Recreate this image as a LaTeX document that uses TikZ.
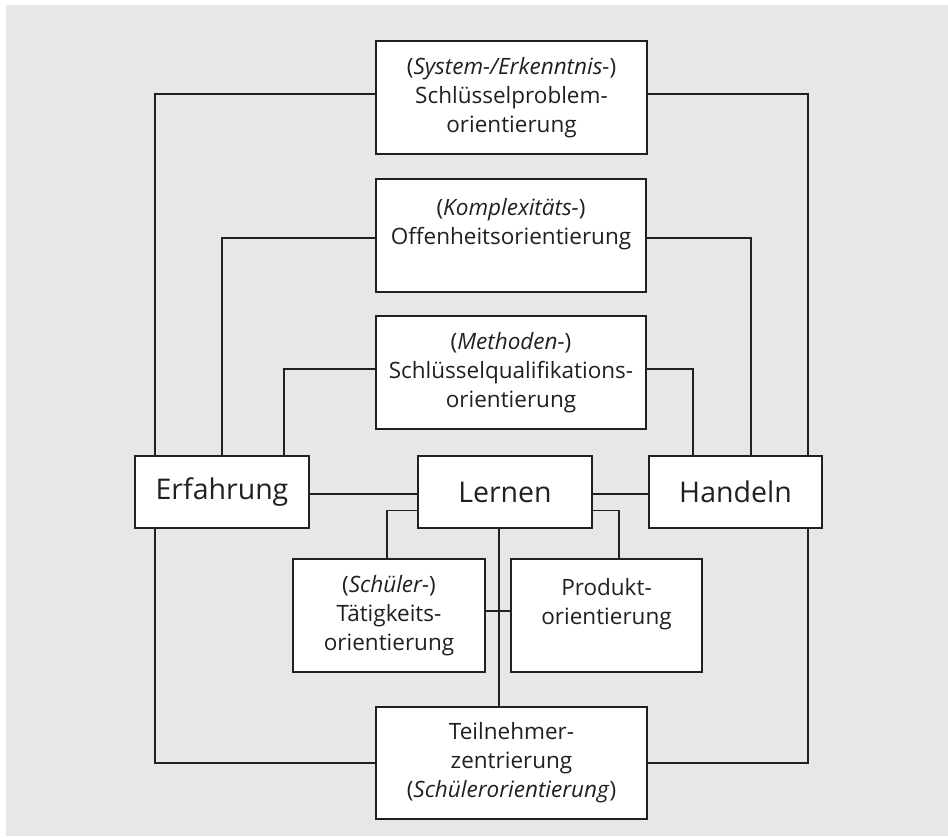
\documentclass[tikz,border=0pt]{standalone}
\usepackage{fontspec}
\setmainfont{Open Sans}
\definecolor{panel}{HTML}{E6E7E8}
\definecolor{ink}{HTML}{231F20}
\begin{document}
\begin{tikzpicture}[x=1pt, y=-1pt,
  box/.style={draw=ink, line width=1.3pt, fill=white, inner sep=0pt,
    align=center, text=ink, font=\fontsize{22.5}{29}\selectfont},
  bigbox/.style={box, font=\fontsize{28.5}{34}\selectfont},
  link/.style={draw=ink, line width=1.8pt}]
\useasboundingbox (0,0) rectangle (948,836);
\fill[white] (0,0) rectangle (948,836);
\fill[panel] (6,5) rectangle (948,836);

% orientation boxes
\node[box, minimum width=271pt, minimum height=113pt] (sys) at (511.5,97.5)
  {(\textit{System-/Erkenntnis-})\\Schlüsselproblem-\\orientierung};
\node[box, minimum width=270pt, minimum height=113pt] (kom) at (511,235.5)
  {(\textit{Komplexitäts-})\\Offenheitsorientierung\\\mbox{}};
\node[box, minimum width=270pt, minimum height=113pt] (met) at (511,372.5)
  {(\textit{Methoden-})\\Schlüsselqualifikations-\\orientierung};

% central row
\node[bigbox, minimum width=174pt, minimum height=72pt] (erf) at (222,492) {Erfahrung};
\node[bigbox, minimum width=174pt, minimum height=72pt] (ler) at (505,492) {Lernen};
\node[bigbox, minimum width=173pt, minimum height=72pt] (han) at (735.5,492) {Handeln};

% lower boxes
\node[box, minimum width=192pt, minimum height=113pt] (sch) at (389,615.5)
  {(\textit{Schüler-})\\Tätigkeits-\\orientierung};
\node[box, minimum width=191pt, minimum height=113pt] (pro) at (606.5,615.5)
  {Produkt-\\orientierung\\\mbox{}};
\node[box, minimum width=271pt, minimum height=112pt] (tei) at (511.5,763)
  {Teilnehmer-\\zentrierung\\(\textit{Schülerorientierung})};

% outer frame
\draw[link] ([yshift=3.5pt]sys.west) -| ([xshift=-67pt]erf.north);
\draw[link] ([yshift=3.5pt]sys.east) -| ([xshift=72.5pt]han.north);
\draw[link] ([xshift=-67pt]erf.south) |- (tei.west);
\draw[link] ([xshift=72.5pt]han.south) |- (tei.east);

% middle and inner frames
\draw[link] ([yshift=-2.5pt]kom.west) -| (erf.north);
\draw[link] ([yshift=-2.5pt]kom.east) -| ([xshift=15.5pt]han.north);
\draw[link] ([yshift=3.5pt]met.west) -| ([xshift=62pt]erf.north);
\draw[link] ([yshift=3.5pt]met.east) -| ([xshift=-42.5pt]han.north);

% central row links
\draw[link] ([yshift=-2pt]erf.east) -- ([yshift=-2pt]ler.west);
\draw[link] ([yshift=-2pt]ler.east) -- ([yshift=-2pt]han.west);

% links below Lernen
\draw[link] ([yshift=-18.5pt]ler.west) -| ([xshift=-2pt]sch.north);
\draw[link] ([yshift=-18.5pt]ler.east) -| ([xshift=12.5pt]pro.north);
\draw[link] ([xshift=-6pt]ler.south) -- ([xshift=-6pt]ler.south |- tei.north);
\draw[link] ([yshift=4.5pt]sch.east) -- ([yshift=4.5pt]pro.west);
\end{tikzpicture}
\end{document}
